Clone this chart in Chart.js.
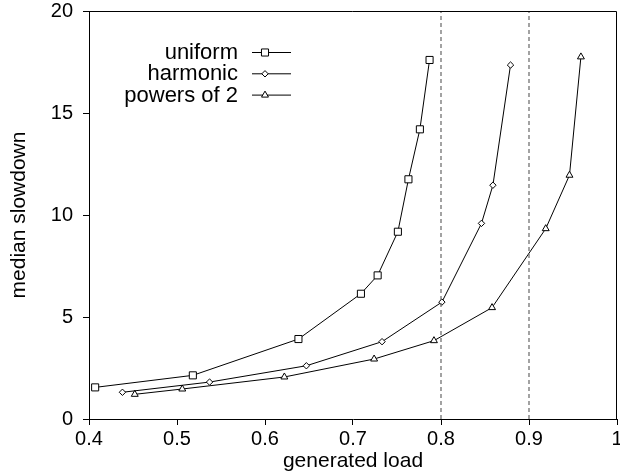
<!DOCTYPE html>
<html>
<head>
<meta charset="utf-8">
<script src="https://cdn.jsdelivr.net/npm/chart.js@4.4.1/dist/chart.umd.min.js"></script>
<style>
  html, body { margin: 0; padding: 0; background: #fff; }
  #wrap { width: 620px; height: 475px; }
</style>
</head>
<body>
<div id="wrap"><canvas id="myChart" width="620" height="475"></canvas></div>
<script>
// data
const uniformX = [0.407, 0.518, 0.638, 0.709, 0.728, 0.751, 0.763, 0.776, 0.787];
const uniformY = [1.55, 2.14, 3.92, 6.14, 7.04, 9.18, 11.75, 14.2, 17.6];
const harmonicX = [0.438, 0.537, 0.647, 0.733, 0.801, 0.846, 0.859, 0.879];
const harmonicY = [1.31, 1.81, 2.61, 3.79, 5.73, 9.59, 11.46, 17.35];
const powersX = [0.452, 0.506, 0.622, 0.724, 0.792, 0.858, 0.919, 0.946, 0.959];
const powersY = [1.21, 1.47, 2.06, 2.94, 3.84, 5.46, 9.33, 11.95, 17.75];
const refLoads = [0.8, 0.9];
const xTicks = [0.4, 0.5, 0.6, 0.7, 0.8, 0.9, 1];
const yTicks = [0, 5, 10, 15, 20];

const FONT = "'Liberation Sans', Arial, Helvetica, sans-serif";
const PLOT_RIGHT = 617;

const pts = (xs, ys) => xs.map((x, i) => ({ x: x, y: ys[i] }));

const series = (label, xs, ys, style, radius) => ({
  label: label,
  data: pts(xs, ys),
  showLine: true,
  borderColor: "#000",
  borderWidth: 1,
  pointStyle: style,
  pointRadius: radius,
  pointHoverRadius: radius,
  pointBorderColor: "#000",
  pointBorderWidth: 1,
  pointBackgroundColor: "#fff",
  inLegend: true,
});

const refLine = (x) => ({
  label: "ref " + x,
  data: [{ x: x, y: yTicks[0] }, { x: x, y: yTicks[yTicks.length - 1] }],
  showLine: true,
  borderColor: "#666",
  borderWidth: 1.2,
  borderDash: [4, 3],
  pointRadius: 0,
  pointHoverRadius: 0,
});

// chart.js keeps room for half of the "1" label, the original doesn't
const stretchPlugin = {
  id: "stretch",
  afterLayout(chart) {
    const xs = chart.scales.x;
    xs.right = PLOT_RIGHT;
    xs.width = PLOT_RIGHT - xs.left;
    xs.configure();
    chart.chartArea.right = PLOT_RIGHT;
    chart.chartArea.width = PLOT_RIGHT - chart.chartArea.left;
  },
};

// gnuplot-ish key: text on the left, line + marker on the right
const keyPlugin = {
  id: "key",
  afterDraw(chart) {
    const ctx = chart.ctx;
    const textRight = 238;
    const lineL = 252, lineR = 291, markX = 265;
    let y = 52;
    ctx.save();
    ctx.font = "22px " + FONT;
    ctx.fillStyle = "#000";
    ctx.textAlign = "right";
    ctx.textBaseline = "alphabetic";
    chart.data.datasets.forEach((ds) => {
      if (!ds.inLegend) return;
      ctx.fillText(ds.label, textRight, y + 7);
      ctx.strokeStyle = "#000";
      ctx.lineWidth = 1;
      ctx.setLineDash([]);
      ctx.beginPath();
      ctx.moveTo(lineL, y + 0.5);
      ctx.lineTo(lineR, y + 0.5);
      ctx.stroke();
      ctx.fillStyle = "#fff";
      Chart.helpers.drawPoint(ctx, {
        pointStyle: ds.pointStyle,
        radius: ds.pointRadius,
        borderWidth: 1,
        rotation: 0,
      }, markX, y + 0.5);
      ctx.fillStyle = "#000";
      y += 21.3;
    });
    ctx.restore();
  },
};

// top and right edges of the frame
const framePlugin = {
  id: "frame",
  afterDraw(chart) {
    const a = chart.chartArea;
    const ctx = chart.ctx;
    ctx.save();
    ctx.strokeStyle = "#000";
    ctx.lineWidth = 1;
    ctx.beginPath();
    ctx.moveTo(a.left, a.top + 0.5);
    ctx.lineTo(a.right - 0.5, a.top + 0.5);
    ctx.lineTo(a.right - 0.5, a.bottom);
    ctx.stroke();
    ctx.restore();
  },
};

const config = {
  type: "scatter",
  data: {
    datasets: [
      refLine(refLoads[0]),
      refLine(refLoads[1]),
      series("uniform", uniformX, uniformY, "rect", 5),
      series("harmonic", harmonicX, harmonicY, "rectRot", 3.2),
      series("powers of 2", powersX, powersY, "triangle", 4),
    ],
  },
  options: {
    responsive: false,
    animation: false,
    layout: { padding: { top: 11, right: 0, left: 0, bottom: 0 } },
    plugins: {
      legend: { display: false },
      tooltip: { enabled: false },
    },
    scales: {
      x: {
        type: "linear",
        min: xTicks[0],
        max: xTicks[xTicks.length - 1],
        afterBuildTicks: (s) => { s.ticks = xTicks.map((v) => ({ value: v })); },
        afterFit: (s) => { s.height = 56; },
        ticks: {
          color: "#000",
          font: { family: FONT, size: 20 },
          padding: 2,
          maxRotation: 0,
          callback: (v) => (v === 1 ? "1" : v.toFixed(1)),
        },
        grid: { drawOnChartArea: false, drawTicks: true, tickLength: 6, color: "#000" },
        border: { display: true, color: "#000", width: 1 },
        title: {
          display: true,
          text: "generated load",
          color: "#000",
          font: { family: FONT, size: 21 },
          padding: { top: 0, bottom: 1.5 },
        },
      },
      y: {
        type: "linear",
        min: yTicks[0],
        max: yTicks[yTicks.length - 1],
        afterBuildTicks: (s) => { s.ticks = yTicks.map((v) => ({ value: v })); },
        afterFit: (s) => { s.width = 89; s.paddingTop = 0; s.paddingBottom = 0; },
        ticks: {
          color: "#000",
          font: { family: FONT, size: 20 },
          padding: 10,
        },
        grid: { drawOnChartArea: false, drawTicks: true, tickLength: 6, color: "#000" },
        border: { display: true, color: "#000", width: 1 },
        title: {
          display: true,
          text: "median slowdown",
          color: "#000",
          font: { family: FONT, size: 21 },
          padding: { top: 7, bottom: 0 },
        },
      },
    },
  },
  plugins: [stretchPlugin, keyPlugin, framePlugin],
};

const myChart = new Chart(document.getElementById("myChart"), config);
</script>
</body>
</html>
